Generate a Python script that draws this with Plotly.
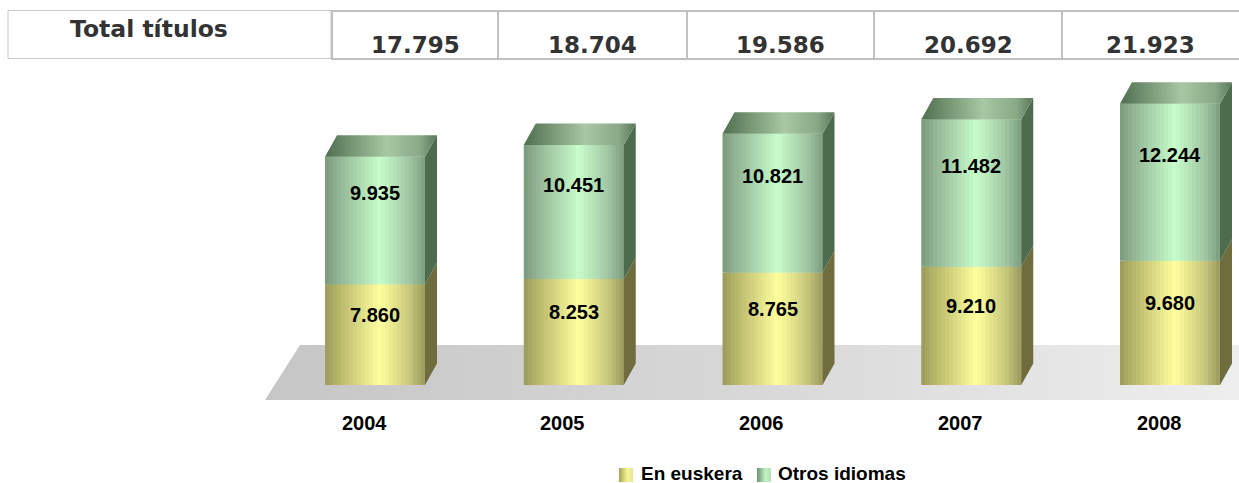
import numpy as np
import plotly.graph_objects as go

# ---------------- data ----------------
years = ["2004", "2005", "2006", "2007", "2008"]
euskera = [7860, 8253, 8765, 9210, 9680]
otros = [9935, 10451, 10821, 11482, 12244]
totales = [17795, 18704, 19586, 20692, 21923]
series_names = ["En euskera", "Otros idiomas"]
table_label = "Total títulos"

# ---------------- geometry / style constants ----------------
W, H = 1239, 483
CAT_PX = 198.75      # px per category
X0_PX = 375.0        # px of first category centre
VAL_PX = 0.01283     # px per unit
BASE_PX = 385.0      # px of value 0
BAR_W = 100 / CAT_PX
DX = 12 / CAT_PX
DY = 21.5 / VAL_PX
N_STRIPS = 25

def px2x(px):
    return (px - X0_PX) / CAT_PX

def py2y(py):
    return (BASE_PX - py) / VAL_PX

XR = [px2x(0), px2x(W)]
YR = [py2y(H), py2y(0)]

front_scales = {
    "En euskera": [(0, "#9a9a5c"), (0.12, "#b4b468"), (0.55, "#ffff9e"), (0.85, "#c6c67b"), (1, "#9a9a5e")],
    "Otros idiomas": [(0, "#789a7a"), (0.12, "#90b292"), (0.55, "#c8fdcb"), (0.85, "#a0c4a2"), (1, "#7c9e7e")],
}
side_colors = {"En euskera": "#6f6d3d", "Otros idiomas": "#4d6b4d"}
top_scale = [[0, "#4e6e4e"], [0.55, "#a8c8a4"], [0.85, "#88a886"], [1, "#5a785a"]]
swatch_scales = {
    "En euskera": [[0, "#a2a25a"], [0.6, "#f6f696"], [1, "#e6e68e"]],
    "Otros idiomas": [[0, "#6c926e"], [0.6, "#c2f2c4"], [1, "#b2e0b4"]],
}
legend_px = {"En euskera": (619, 639), "Otros idiomas": (757, 776)}   # swatch left, text left


def hex2rgb(h):
    h = h.lstrip("#")
    return np.array([int(h[i:i + 2], 16) for i in (0, 2, 4)], dtype=float)


def interp(stops, t):
    for (t0, c0), (t1, c1) in zip(stops[:-1], stops[1:]):
        if t0 <= t <= t1:
            f = (t - t0) / (t1 - t0) if t1 > t0 else 0
            c = hex2rgb(c0) * (1 - f) + hex2rgb(c1) * f
            return "rgb(%d,%d,%d)" % tuple(np.round(c).astype(int))
    return stops[-1][1]


def fmt(v):
    return f"{v:,}".replace(",", ".")


fig = go.Figure()

# ---------------- floor (base subplot, below bars) ----------------
floor_px = [(300, 345), (W + 5, 345), (W + 5, 400), (265, 400), (300, 345)]
fig.add_trace(go.Scatter(
    x=[px2x(p[0]) for p in floor_px], y=[py2y(p[1]) for p in floor_px],
    mode="lines", fill="toself",
    fillgradient=dict(type="horizontal", colorscale=[[0, "#c6c6c6"], [0.5, "#d8d8d8"], [1, "#eeeeee"]]),
    line=dict(width=0, color="rgba(0,0,0,0)"),
    hoverinfo="skip", showlegend=False, xaxis="x", yaxis="y",
))

# ---------------- bars (front faces as overlapping gradient strips) ----------------
xs = list(range(len(years)))
series = [("En euskera", euskera, [0] * len(years)),
          ("Otros idiomas", otros, euskera)]

step = BAR_W / N_STRIPS
for name, vals, bases in series:
    for k in range(N_STRIPS):
        t = (k + 0.5) / N_STRIPS
        off = -BAR_W / 2 + k * step
        wid = step * 2 if k < N_STRIPS - 1 else step
        fig.add_trace(go.Bar(
            x=xs, y=vals, base=bases,
            width=wid, offset=off,
            marker=dict(color=interp(front_scales[name], t), line=dict(width=0)),
            name=name, legendgroup=name, showlegend=False,
            hoverinfo="skip", xaxis="x2", yaxis="y2",
        ))

# side faces
for name, vals, bases in series:
    sx, sy = [], []
    for i in xs:
        xr_ = i + BAR_W / 2
        b = bases[i]
        t_ = bases[i] + vals[i]
        sx += [xr_, xr_ + DX, xr_ + DX, xr_, xr_, None]
        sy += [b, b + DY, t_ + DY, t_, b, None]
    fig.add_trace(go.Scatter(
        x=sx, y=sy, mode="lines", fill="toself", fillcolor=side_colors[name],
        line=dict(width=0, color="rgba(0,0,0,0)"),
        hoverinfo="skip", showlegend=False, xaxis="x2", yaxis="y2",
    ))

# top faces
for i in xs:
    t_ = euskera[i] + otros[i]
    xl_ = i - BAR_W / 2
    xr_ = i + BAR_W / 2
    fig.add_trace(go.Scatter(
        x=[xl_, xl_ + DX, xr_ + DX, xr_, xl_],
        y=[t_, t_ + DY, t_ + DY, t_, t_],
        mode="lines", fill="toself",
        fillgradient=dict(type="horizontal", colorscale=top_scale),
        line=dict(width=0, color="rgba(0,0,0,0)"),
        hoverinfo="skip", showlegend=False, xaxis="x2", yaxis="y2",
    ))

annotations = []

# legend (swatches + labels)
for name in series_names:
    sx0, tx0 = legend_px[name]
    pts = [(sx0, 468), (sx0 + 14, 468), (sx0 + 14, 482), (sx0, 482), (sx0, 468)]
    fig.add_trace(go.Scatter(
        x=[px2x(p[0]) for p in pts], y=[py2y(p[1]) for p in pts],
        mode="lines", fill="toself",
        fillgradient=dict(type="horizontal", colorscale=swatch_scales[name]),
        line=dict(width=0, color="rgba(0,0,0,0)"),
        hoverinfo="skip", showlegend=False, xaxis="x2", yaxis="y2",
    ))
    annotations.append(dict(
        x=tx0 / W, y=1 - 473 / H, xref="paper", yref="paper", xanchor="left", yanchor="middle",
        text=name, showarrow=False,
        font=dict(family="Arial, Liberation Sans", size=19, color="#000000", weight="bold"),
    ))

# value labels
label_shift = {"En euskera": 20, "Otros idiomas": 27}
for name, vals, bases in series:
    for i in xs:
        annotations.append(dict(
            x=i, y=bases[i] + vals[i] / 2, xref="x2", yref="y2",
            text=fmt(vals[i]), showarrow=False, yshift=label_shift[name],
            font=dict(family="Arial, Liberation Sans", size=20, color="#000000", weight="bold"),
        ))

# category labels
for i, yr in enumerate(years):
    annotations.append(dict(
        x=i, y=1 - 423 / H, xref="x2", yref="paper", yanchor="middle",
        text=yr, showarrow=False, xshift=-11,
        font=dict(family="Arial, Liberation Sans", size=20, color="#000000", weight="bold"),
    ))

# ---------------- table header ----------------
shapes = []
tcol = "#c0c0c0"
shapes.append(dict(type="rect", xref="paper", yref="paper",
                   x0=8 / W, x1=331 / W, y0=1 - 58.5 / H, y1=1 - 10.5 / H,
                   line=dict(color="#c8c8c8", width=1), fillcolor="rgba(0,0,0,0)"))
cell_edges = [332, 498, 687, 874, 1062, W + 5]
for yy in (11, 59):
    shapes.append(dict(type="line", xref="paper", yref="paper",
                       x0=331 / W, x1=1, y0=1 - yy / H, y1=1 - yy / H,
                       line=dict(color=tcol, width=2)))
for xx in cell_edges[:-1]:
    shapes.append(dict(type="line", xref="paper", yref="paper",
                       x0=xx / W, x1=xx / W, y0=1 - 59 / H, y1=1 - 11 / H,
                       line=dict(color=tcol, width=2)))

annotations.append(dict(
    x=149 / W, y=1 - 29 / H, xref="paper", yref="paper", xanchor="center", yanchor="middle",
    text=table_label, showarrow=False,
    font=dict(family="Verdana, DejaVu Sans", size=23.5, color="#333333", weight="bold"),
))
for k, tot in enumerate(totales):
    cx = (cell_edges[k] + min(cell_edges[k + 1], W)) / 2
    annotations.append(dict(
        x=cx / W, y=1 - 45.5 / H, xref="paper", yref="paper", xanchor="center", yanchor="middle",
        text=fmt(tot), showarrow=False,
        font=dict(family="Verdana, DejaVu Sans", size=23, color="#333333", weight="bold"),
    ))

fig.update_layout(
    width=W, height=H,
    margin=dict(l=0, r=0, t=0, b=0, pad=0),
    paper_bgcolor="white", plot_bgcolor="rgba(0,0,0,0)",
    barmode="overlay",
    xaxis=dict(range=XR, visible=False, fixedrange=True),
    yaxis=dict(range=YR, visible=False, fixedrange=True),
    xaxis2=dict(range=XR, visible=False, overlaying="x", anchor="y2", fixedrange=True),
    yaxis2=dict(range=YR, visible=False, overlaying="y", anchor="x2", fixedrange=True),
    showlegend=False,
    annotations=annotations,
    shapes=shapes,
)

fig.write_html("out.html",
               config={"displayModeBar": False},
               post_script="document.body.style.margin='0px';document.body.style.overflow='hidden';")
